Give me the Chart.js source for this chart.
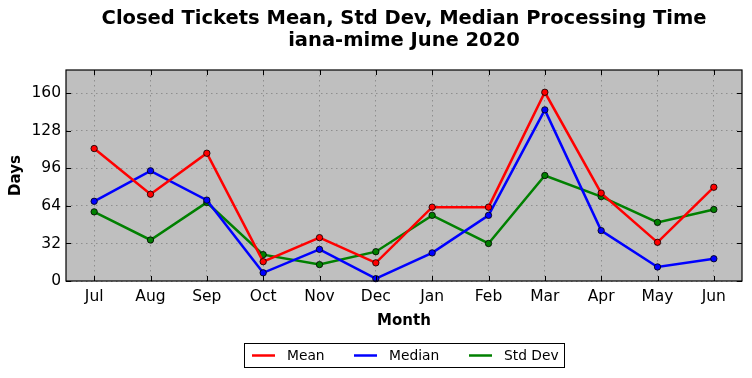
<!DOCTYPE html>
<html>
<head>
<meta charset="utf-8">
<script src="https://cdn.jsdelivr.net/npm/chart.js@4/dist/chart.umd.min.js"></script>
<style>
html,body{margin:0;padding:0;background:#fff;}
#wrap{width:752px;height:378px;}
</style>
</head>
<body>
<div id="wrap"><canvas id="c" width="752" height="378"></canvas></div>
<script>
const titleLines = ["Closed Tickets Mean, Std Dev, Median Processing Time", "iana-mime June 2020"];
const months = ["Jul","Aug","Sep","Oct","Nov","Dec","Jan","Feb","Mar","Apr","May","Jun"];
const meanDays   = [113, 74, 109, 16.5, 37, 15.5, 63, 63, 161, 75, 33, 80];
const medianDays = [68, 94, 69, 7, 27, 2, 24, 56, 146, 43, 12, 19];
const stdDays    = [59, 35, 67, 22.5, 14, 25, 56, 32, 90, 72, 50, 61];
const yTicks = [0, 32, 64, 96, 128, 160];
const yMin = 0, yMax = 180;

const FONT = "'DejaVu Sans', sans-serif";

function ds(label, data, color){
  return {label, data, borderColor: color, backgroundColor: color,
    borderWidth: 2.5, pointRadius: 3.2, pointHoverRadius: 3.2,
    pointBackgroundColor: color, pointBorderColor: '#000', pointBorderWidth: 0.8,
    tension: 0, fill: false, clip: false};
}

const decor = {
  id: 'decor',
  beforeDraw(chart){
    const {ctx, chartArea: a} = chart;
    ctx.save();
    ctx.fillStyle = '#bfbfbf';
    ctx.fillRect(a.left, a.top, a.right - a.left, a.bottom - a.top);
    ctx.restore();
  },
  afterDatasetsDraw(chart){
    const {ctx, chartArea: a, scales} = chart;
    ctx.save();
    ctx.strokeStyle = '#000';
    ctx.lineWidth = 1.2;
    ctx.strokeRect(a.left, a.top, a.right - a.left, a.bottom - a.top);
    ctx.lineWidth = 1;
    const L = 5;
    ctx.beginPath();
    scales.x.ticks.forEach((t, i) => {
      const x = Math.round(scales.x.getPixelForTick(i)) + 0.5;
      ctx.moveTo(x, a.bottom); ctx.lineTo(x, a.bottom - L);
      ctx.moveTo(x, a.top); ctx.lineTo(x, a.top + L);
    });
    scales.y.ticks.forEach(t => {
      const y = Math.round(scales.y.getPixelForValue(t.value)) + 0.5;
      ctx.moveTo(a.left, y); ctx.lineTo(a.left + L, y);
      ctx.moveTo(a.right, y); ctx.lineTo(a.right - L, y);
    });
    ctx.stroke();
    ctx.restore();
  },
  afterDraw(chart){
    const {ctx, chartArea: a} = chart;
    ctx.save();
    // title
    ctx.fillStyle = '#000';
    ctx.font = "bold 19.5px " + FONT;
    ctx.textAlign = 'center';
    ctx.textBaseline = 'middle';
    const cx = (a.left + a.right) / 2;
    ctx.fillText(titleLines[0], cx, 19);
    ctx.fillText(titleLines[1], cx, 41);
    // legend
    const bx = 244.5, by = 343.5, bw = 320, bh = 24;
    ctx.fillStyle = '#fff';
    ctx.fillRect(bx, by, bw, bh);
    ctx.strokeStyle = '#000';
    ctx.lineWidth = 1;
    ctx.strokeRect(bx, by, bw, bh);
    const starts = [252, 354, 469];
    ctx.font = "13.8px " + FONT;
    ctx.textAlign = 'left';
    chart.data.datasets.forEach((d, i) => {
      const y = by + bh / 2;
      ctx.strokeStyle = d.borderColor;
      ctx.lineWidth = 2.5;
      ctx.beginPath();
      ctx.moveTo(starts[i], y); ctx.lineTo(starts[i] + 23, y);
      ctx.stroke();
      ctx.fillStyle = '#000';
      ctx.fillText(d.label, starts[i] + 35, y + 1);
    });
    ctx.restore();
  }
};

new Chart(document.getElementById('c'), {
  type: 'line',
  data: {
    labels: months,
    datasets: [
      ds('Mean', meanDays, '#ff0000'),
      ds('Median', medianDays, '#0000ff'),
      ds('Std Dev', stdDays, '#008000')
    ]
  },
  options: {
    responsive: false,
    animation: false,
    devicePixelRatio: 1,
    layout: {padding: {top: 70, bottom: 46, left: 0, right: 10}},
    plugins: {legend: {display: false}, title: {display: false}, tooltip: {enabled: false}},
    scales: {
      x: {
        type: 'category',
        offset: true,
        afterFit(s){ s.height = 51; },
        grid: {display: true, drawTicks: false, color: 'rgba(110,110,110,0.6)', lineWidth: 1, offset: false},
        border: {display: false, dash: [1.5, 3.5]},
        ticks: {padding: 7, color: '#000', font: {family: FONT, size: 15.5}, maxRotation: 0, autoSkip: false},
        title: {display: true, text: 'Month', color: '#000', font: {family: FONT, size: 15, weight: 'bold'}, padding: {top: 0, bottom: 2}}
      },
      y: {
        min: yMin, max: yMax,
        afterFit(s){ s.width = 66; },
        afterBuildTicks(s){ s.ticks = yTicks.map(v => ({value: v})); },
        grid: {display: true, drawTicks: false, color: 'rgba(110,110,110,0.6)', lineWidth: 1},
        border: {display: false, dash: [1.5, 3.5]},
        ticks: {padding: 5, color: '#000', font: {family: FONT, size: 15.5}},
        title: {display: true, text: 'Days', color: '#000', font: {family: FONT, size: 15, weight: 'bold'}, padding: {top: 7, bottom: 0}}
      }
    }
  },
  plugins: [decor]
});
</script>
</body>
</html>
